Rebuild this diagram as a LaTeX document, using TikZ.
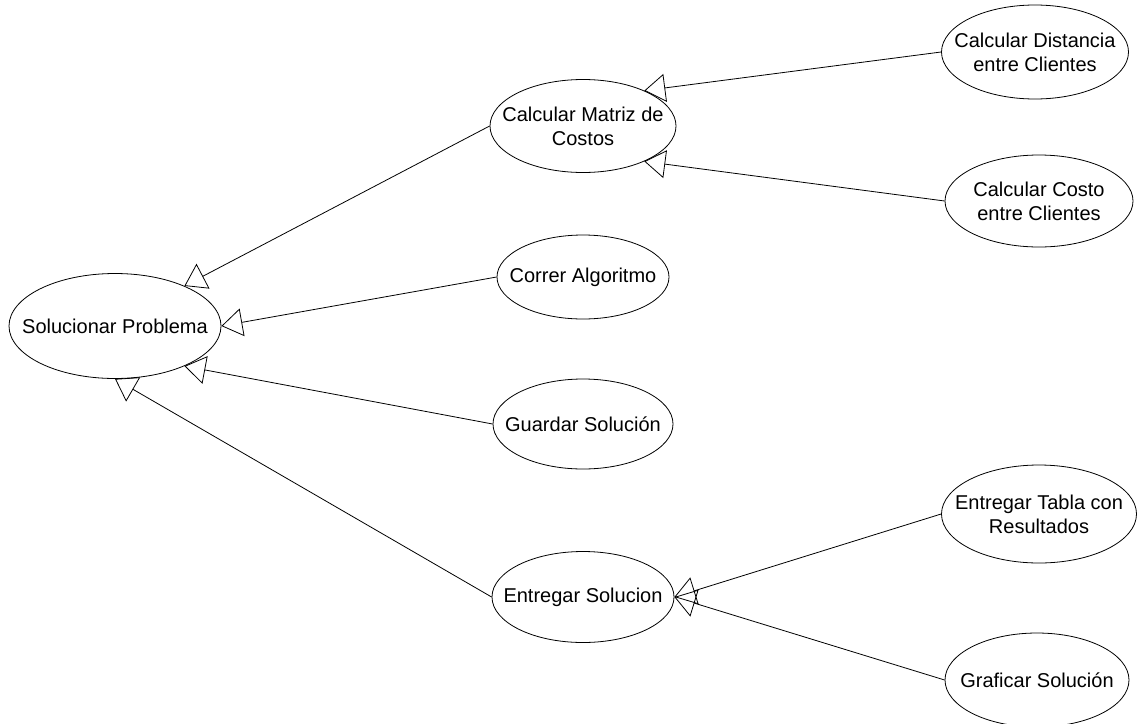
\documentclass[tikz,border=0pt]{standalone}
\usepackage{fontspec}
\setmainfont{Liberation Sans}
\usetikzlibrary{shapes.geometric,arrows.meta}
\begin{document}
\begin{tikzpicture}[x=1pt,y=-1pt,
  usecase/.style={draw,ellipse,line width=0.8pt,inner sep=0pt},
  uctext/.style={align=center,inner sep=0pt,font=\fontsize{20}{24}\selectfont},
  gen/.style={line width=0.8pt,-{Triangle[open,length=21pt,width=28pt]}}]
\useasboundingbox (0,0) rectangle (1139,723);

% use cases (ellipses) with their captions
\node[usecase,minimum width=212pt,minimum height=105pt] (s)  at (115,326) {};
\node[usecase,minimum width=186pt,minimum height=93pt]  (m)  at (583,126) {};
\node[usecase,minimum width=172pt,minimum height=84pt]  (ca) at (583,277) {};
\node[usecase,minimum width=180pt,minimum height=90pt]  (gs) at (583,424) {};
\node[usecase,minimum width=182pt,minimum height=91pt]  (es) at (583,597) {};
\node[usecase,minimum width=187pt,minimum height=94pt]  (cd) at (1035,52) {};
\node[usecase,minimum width=188pt,minimum height=92pt]  (cc) at (1039,201) {};
\node[usecase,minimum width=195pt,minimum height=98pt]  (et) at (1039,514) {};
\node[usecase,minimum width=184pt,minimum height=94pt]  (gr) at (1037,680) {};

\node[uctext] (s-t)  at (s)  {Solucionar Problema};
\node[uctext] (m-t)  at (m)  {Calcular Matriz de\\Costos};
\node[uctext] (ca-t) at (ca) {Correr Algoritmo};
\node[uctext] (gs-t) at (gs) {Guardar Solución};
\node[uctext] (es-t) at (es) {Entregar Solucion};
\node[uctext] (cd-t) at (cd) {Calcular Distancia\\entre Clientes};
\node[uctext] (cc-t) at (cc) {Calcular Costo\\entre Clientes};
\node[uctext] (et-t) at (et) {Entregar Tabla con\\Resultados};
\node[uctext] (gr-t) at (gr) {Graficar Solución};

% generalization connectors
\draw[gen] (m.west)  -- (s.30);
\draw[gen] (ca.west) -- (s.east);
\draw[gen] (gs.west) -- (s.-30);
\draw[gen] (es.west) -- (s.south);
\draw[gen] (cd.west) -- (m.30);
\draw[gen] (cc.west) -- (m.-30);
\draw[gen] (et.west) -- (es.east);
\draw[gen] (gr.west) -- (es.east);
\end{tikzpicture}
\end{document}
